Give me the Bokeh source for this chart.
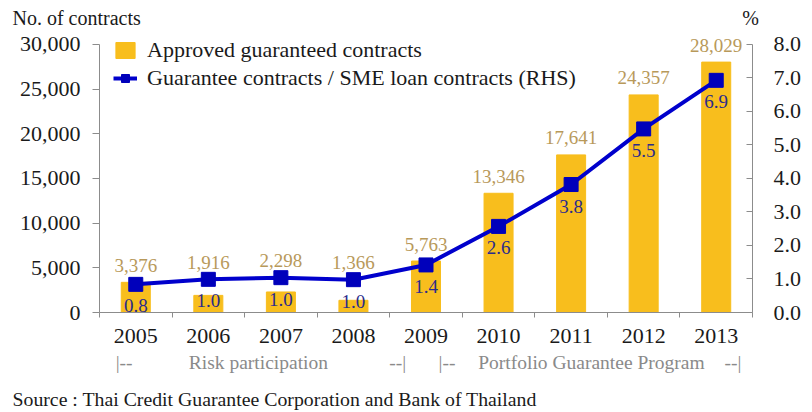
from bokeh.plotting import figure
from bokeh.layouts import column, row
from bokeh.models import (ColumnDataSource, Range1d, LinearAxis, FixedTicker,
                          NumeralTickFormatter, Legend, LegendItem)
from bokeh.embed import file_html
from bokeh.resources import INLINE
from bokeh.core.properties import value

# ---- data ----
years = ["2005", "2006", "2007", "2008", "2009", "2010", "2011", "2012", "2013"]
contracts = [3376, 1916, 2298, 1366, 5763, 13346, 17641, 24357, 28029]
ratio = [0.84, 0.99, 1.04, 0.98, 1.42, 2.57, 3.82, 5.48, 6.93]
left_ticks = [0, 5000, 10000, 15000, 20000, 25000, 30000]
right_ticks = [0, 1, 2, 3, 4, 5, 6, 7, 8]
phase_labels = ["|--", "Risk participation", "--|", "|--", "Portfolio Guarantee Program", "--|"]
phase_pos = [0.34, 2.19, 4.11, 4.79, 6.78, 8.73]
left_title = "No. of contracts"
right_title = "%"
source_note = "Source : Thai Credit Guarantee Corporation and Bank of Thailand"

FONT = "Liberation Serif"
BAR = "#F8BE1D"
LINE = "#0000CC"
AXIS = "#8C8C8C"
TXT = "#1a1a1a"
LMAX, RMAX = 30000, 8
HEADROOM = 1.0485          # frame reaches a little above the top tick
W = 804
H_HEAD, H_MAIN, H_FOOT = 28, 352, 32

xs = [i + 0.5 for i in range(len(years))]
# bar labels sit above whichever is higher: the bar or the line marker
label_y = [max(c, r * LMAX / RMAX) for c, r in zip(contracts, ratio)]
src = ColumnDataSource(dict(
    x=xs, contracts=contracts, ratio=ratio, label_y=label_y,
    clabel=[f"{c:,}" for c in contracts],
    rlabel=[f"{r:.1f}" for r in ratio],
))


def blank(height):
    f = figure(width=W, height=height, output_backend="svg", toolbar_location=None,
               x_range=Range1d(0, W), y_range=Range1d(height, 0),
               x_axis_location=None, y_axis_location=None, min_border=0)
    f.outline_line_color = None
    f.xgrid.visible = False
    f.ygrid.visible = False
    return f


# ---- header ----
head = blank(H_HEAD)
head.text(x=[12], y=[17], text=[left_title], text_baseline="middle",
          text_font=value(FONT), text_font_size="20px", text_color=TXT)
head.text(x=[750], y=[17], text=[right_title], text_baseline="middle", text_align="center",
          text_font=value(FONT), text_font_size="20px", text_color=TXT)

# ---- main chart ----
p = figure(width=W, height=H_MAIN, output_backend="svg", toolbar_location=None,
           x_range=Range1d(0, len(years)), y_range=Range1d(0, LMAX * HEADROOM),
           min_border_left=99, min_border_right=49, min_border_top=3,
           min_border_bottom=68)
p.extra_y_ranges = {"pct": Range1d(0, RMAX * HEADROOM)}
p.outline_line_color = None
p.xgrid.visible = False
p.ygrid.visible = False

# x axis: labels at centres, tick marks at category boundaries
xa = p.xaxis[0]
xa.ticker = FixedTicker(ticks=xs, minor_ticks=list(range(len(years) + 1)))
xa.major_label_overrides = {x: y for x, y in zip(xs, years)}
xa.major_tick_in = 0
xa.major_tick_out = 0
xa.minor_tick_in = 0
xa.minor_tick_out = 5
xa.minor_tick_line_color = AXIS
xa.axis_line_color = AXIS
xa.major_label_text_font = FONT
xa.major_label_text_font_size = "22px"
xa.major_label_text_color = TXT
xa.major_label_standoff = 11

# programme phases row
pa = LinearAxis(ticker=FixedTicker(ticks=phase_pos, minor_ticks=[]),
                major_label_overrides={x: t for x, t in zip(phase_pos, phase_labels)})
pa.axis_line_color = None
pa.major_tick_line_color = None
pa.minor_tick_line_color = None
pa.major_label_text_font = FONT
pa.major_label_text_font_size = "19.5px"
pa.major_label_text_color = "#8A8A8A"
pa.major_label_standoff = 0
p.add_layout(pa, "below")

# left axis
ya = p.yaxis[0]
ya.ticker = FixedTicker(ticks=left_ticks)
ya.formatter = NumeralTickFormatter(format="0,0")
ya.bounds = (0, LMAX)
ya.major_tick_in = 0
ya.major_tick_out = 7
ya.minor_tick_line_color = None
ya.axis_line_color = AXIS
ya.major_tick_line_color = AXIS
ya.major_label_text_font = FONT
ya.major_label_text_font_size = "22px"
ya.major_label_text_color = TXT
ya.major_label_standoff = 12

# right axis
ra = LinearAxis(y_range_name="pct", ticker=FixedTicker(ticks=right_ticks),
                formatter=NumeralTickFormatter(format="0.0"), bounds=(0, RMAX))
ra.major_tick_in = 6
ra.major_tick_out = 0
ra.minor_tick_line_color = None
ra.axis_line_color = AXIS
ra.major_tick_line_color = AXIS
ra.major_label_text_font = FONT
ra.major_label_text_font_size = "22px"
ra.major_label_text_color = TXT
ra.major_label_standoff = 21
p.add_layout(ra, "right")

# glyphs
bars = p.vbar(x="x", top="contracts", width=0.4, source=src,
              fill_color=BAR, line_color=BAR)
ln = p.line(x="x", y="ratio", source=src, y_range_name="pct",
            line_color=LINE, line_width=4)
mk = p.scatter(x="x", y="ratio", source=src, y_range_name="pct",
               marker="square", size=14, fill_color="#0000BB", line_color="#0000BB")

p.text(x="x", y="label_y", text="clabel", source=src,
       text_align="center", text_baseline="alphabetic", y_offset=-17,
       text_font=value(FONT), text_font_size="19px", text_color="#B8995A")
p.text(x="x", y="ratio", text="rlabel", source=src, y_range_name="pct",
       text_align="center", text_baseline="top", y_offset=15,
       text_font=value(FONT), text_font_size="19px", text_color="#2B2B8C")

legend = Legend(items=[
    LegendItem(label="Approved guaranteed contracts", renderers=[bars]),
    LegendItem(label="Guarantee contracts / SME loan contracts (RHS)", renderers=[ln, mk]),
], location=(14, 221))
legend.border_line_color = None
legend.background_fill_alpha = 0
legend.padding = 0
legend.margin = 0
legend.spacing = 2
legend.glyph_width = 24
legend.glyph_height = 20
legend.label_standoff = 10
legend.label_text_font = FONT
legend.label_text_font_size = "22px"
legend.label_text_color = TXT
p.add_layout(legend)

# ---- footer ----
foot = blank(H_FOOT)
foot.text(x=[12], y=[18], text=[source_note], text_baseline="middle",
          text_font=value(FONT), text_font_size="19.8px", text_color=TXT)

page = column(row(head), p, row(foot), spacing=0)
open("out.html", "w").write(file_html(page, INLINE))
